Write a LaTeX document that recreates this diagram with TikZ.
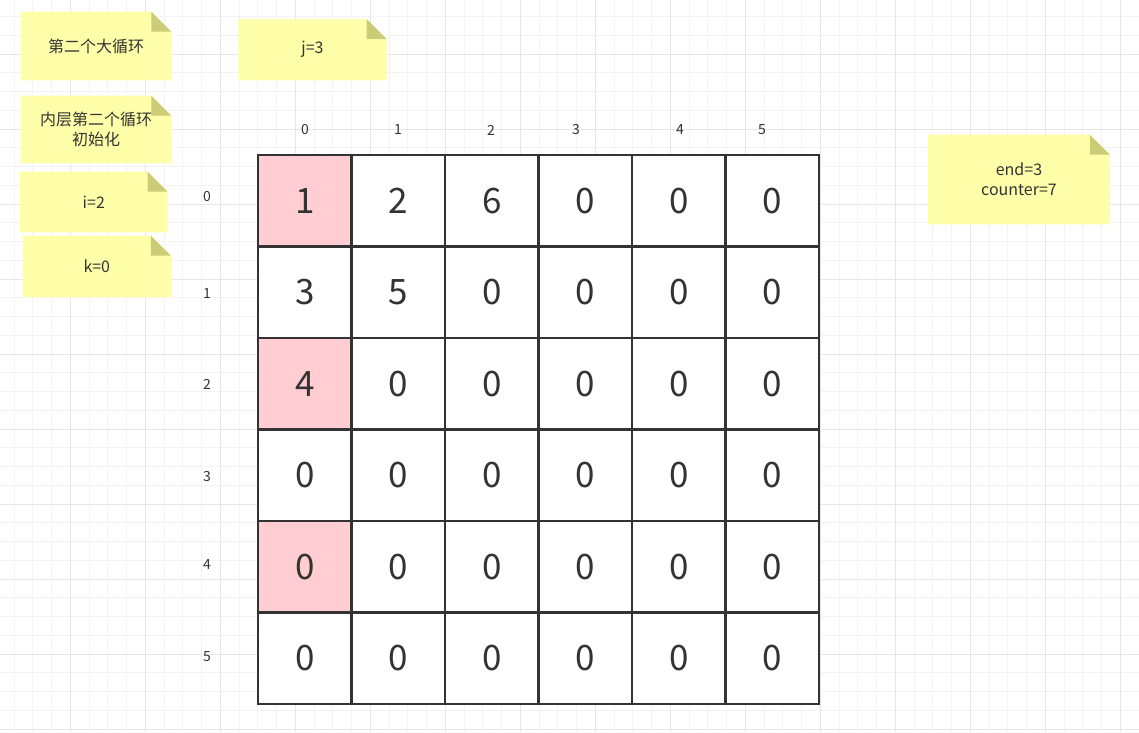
\documentclass[tikz,border=0pt]{standalone}
\usepackage{fontspec}
\setmainfont{Noto Sans CJK SC}
\usepackage{tikz}
\definecolor{notefill}{HTML}{FFFFAA}
\definecolor{notefold}{HTML}{CCCC77}
\definecolor{markcell}{HTML}{FFCDD2}
\definecolor{ink}{HTML}{333333}
\definecolor{minorline}{HTML}{F3F3F3}
\definecolor{majorline}{HTML}{E6E6E6}

\tikzset{
  cell/.style={draw=ink, line width=2.5pt, fill=white, minimum width=93.5pt,
    minimum height=91.5pt, inner sep=0pt, text=ink, font=\fontsize{35}{40}\selectfont},
  hit/.style={cell, fill=markcell},
  idx/.style={text=ink, font=\fontsize{14}{16}\selectfont},
  note/.style={rectangle, inner sep=0pt, text=ink, align=center,
    font=\fontsize{16}{20}\selectfont,
    path picture={
      \fill[notefill] (path picture bounding box.south west) --
        (path picture bounding box.north west) --
        ([xshift=-20pt]path picture bounding box.north east) --
        ([yshift=-20pt]path picture bounding box.north east) --
        (path picture bounding box.south east) -- cycle;
      \fill[notefold]
        ([xshift=-20pt]path picture bounding box.north east) --
        ([xshift=-20pt,yshift=-20pt]path picture bounding box.north east) --
        ([yshift=-20pt]path picture bounding box.north east) -- cycle;}}
}

\begin{document}
\begin{tikzpicture}[x=1pt,y=-1pt]
\useasboundingbox (0,0) rectangle (1139,732);
\fill[white] (0,0) rectangle (1139,732);

% background grid
\foreach \gx in {-4.7,14.05,...,1140} \draw[minorline,line width=1pt] (\gx,0) -- (\gx,732);
\foreach \gy in {-21,-2.25,...,740} \draw[minorline,line width=1pt] (0,\gy) -- (1139,\gy);
\foreach \gx in {-4.7,70.3,...,1140} \draw[majorline,line width=1pt] (\gx,0) -- (\gx,732);
\foreach \gy in {-21,54,...,740} \draw[majorline,line width=1pt] (0,\gy) -- (1139,\gy);

\node[note, minimum width=150.6pt, minimum height=68.6pt] (loop) at (96,46) {第二个大循环};
\node[note, minimum width=148.4pt, minimum height=61.3pt] (jval) at (312.5,49.7) {j=3};
\node[note, minimum width=150.6pt, minimum height=67.6pt] (init) at (96,129.5) {内层第二个循环\\初始化};
\node[note, minimum width=147.7pt, minimum height=60.6pt] (ival) at (93.8,202) {i=2};
\node[note, minimum width=148.3pt, minimum height=61.6pt] (kval) at (96.8,266.5) {k=0};
\node[note, minimum width=181.7pt, minimum height=89.6pt] (endval) at (1019,179.5) {end=3\\counter=7};

\node[idx] (t0) at (305,130) {0};
\node[idx] (t1) at (398,130) {1};
\node[idx] (t2) at (491,130) {2};
\node[idx] (t3) at (576,130) {3};
\node[idx] (t4) at (680,130) {4};
\node[idx] (t5) at (762,130) {5};

\node[idx] (s0) at (207,197) {0};
\node[idx] (s1) at (207,293) {1};
\node[idx] (s2) at (207,384) {2};
\node[idx] (s3) at (207,476) {3};
\node[idx] (s4) at (207,564) {4};
\node[idx] (s5) at (207,657) {5};

\node[hit] (00) at (304.75,200.75) {1};
\node[cell] (01) at (398.25,200.75) {2};
\node[cell] (02) at (491.75,200.75) {6};
\node[cell] (03) at (585.25,200.75) {0};
\node[cell] (04) at (678.75,200.75) {0};
\node[cell] (05) at (772.25,200.75) {0};

\node[cell] (10) at (304.75,292.25) {3};
\node[cell] (11) at (398.25,292.25) {5};
\node[cell] (12) at (491.75,292.25) {0};
\node[cell] (13) at (585.25,292.25) {0};
\node[cell] (14) at (678.75,292.25) {0};
\node[cell] (15) at (772.25,292.25) {0};

\node[hit] (20) at (304.75,383.75) {4};
\node[cell] (21) at (398.25,383.75) {0};
\node[cell] (22) at (491.75,383.75) {0};
\node[cell] (23) at (585.25,383.75) {0};
\node[cell] (24) at (678.75,383.75) {0};
\node[cell] (25) at (772.25,383.75) {0};

\node[cell] (30) at (304.75,475.25) {0};
\node[cell] (31) at (398.25,475.25) {0};
\node[cell] (32) at (491.75,475.25) {0};
\node[cell] (33) at (585.25,475.25) {0};
\node[cell] (34) at (678.75,475.25) {0};
\node[cell] (35) at (772.25,475.25) {0};

\node[hit] (40) at (304.75,566.75) {0};
\node[cell] (41) at (398.25,566.75) {0};
\node[cell] (42) at (491.75,566.75) {0};
\node[cell] (43) at (585.25,566.75) {0};
\node[cell] (44) at (678.75,566.75) {0};
\node[cell] (45) at (772.25,566.75) {0};

\node[cell] (50) at (304.75,658.25) {0};
\node[cell] (51) at (398.25,658.25) {0};
\node[cell] (52) at (491.75,658.25) {0};
\node[cell] (53) at (585.25,658.25) {0};
\node[cell] (54) at (678.75,658.25) {0};
\node[cell] (55) at (772.25,658.25) {0};
\end{tikzpicture}
\end{document}
